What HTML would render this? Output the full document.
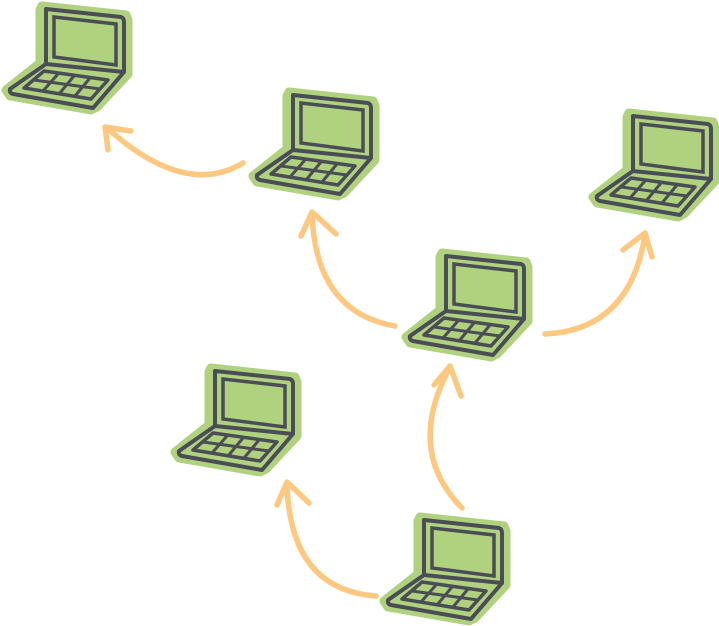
<!DOCTYPE html>
<html><head><style>body{margin:0;background:#fff}svg{display:block}</style></head><body>
<svg width="719" height="626" viewBox="0 0 719 626" xmlns="http://www.w3.org/2000/svg">
<defs>
<g id="lap">
<polygon points="42,6 126,15 128,20 128,74 97,107 91,110 10,96 6,90 40,63 40,10" fill="#b0d27f" stroke="#b0d27f" stroke-width="9" stroke-linejoin="round"/>
<path d="M46,9 L121,17 Q124,18 124,22 L124,72 L46,64 Z" fill="none" stroke="#4a4d55" stroke-width="4" stroke-linejoin="round"/>
<polygon points="54,17 116,24 116,65 54,57" fill="#b0d27f" stroke="#4a4d55" stroke-width="3.5"/>
<path d="M46,64 L10,89 Q9,93 13,94 L93,108 L124,72" fill="none" stroke="#4a4d55" stroke-width="4" stroke-linejoin="round"/>
<polygon points="44,71 108,80 91,99 24,88" fill="none" stroke="#4a4d55" stroke-width="3.5" stroke-linejoin="round"/>
<path d="M34,80 L100,89 M58,74 L43,91 M74,76 L59,94 M90,78 L75,96" stroke="#4a4d55" stroke-width="3"/>
</g>
</defs>
<g fill="none" stroke="#ffc880" stroke-width="5.5" stroke-linecap="round" stroke-linejoin="round">
<path d="M243,163 Q185,198 107,128"/><path d="M108,150 L105,127 L131,131"/>
<path d="M395,326 Q315,312 312,213"/><path d="M301,236 L312,212 L336,234"/>
<path d="M545,334 Q630,330 645,235"/><path d="M623,250 L645,233 L652,257"/>
<path d="M462,508 Q405,450 450,367"/><path d="M434,385 L450,366 L461,396"/>
<path d="M376,596 Q290,590 287,484"/><path d="M277,505 L287,482 L309,503"/>
</g>
<use href="#lap" x="0" y="0"/>
<use href="#lap" x="247" y="86"/>
<use href="#lap" x="587" y="107"/>
<use href="#lap" x="400" y="247"/>
<use href="#lap" x="169" y="362"/>
<use href="#lap" x="378" y="511"/>
</svg>
</body></html>
